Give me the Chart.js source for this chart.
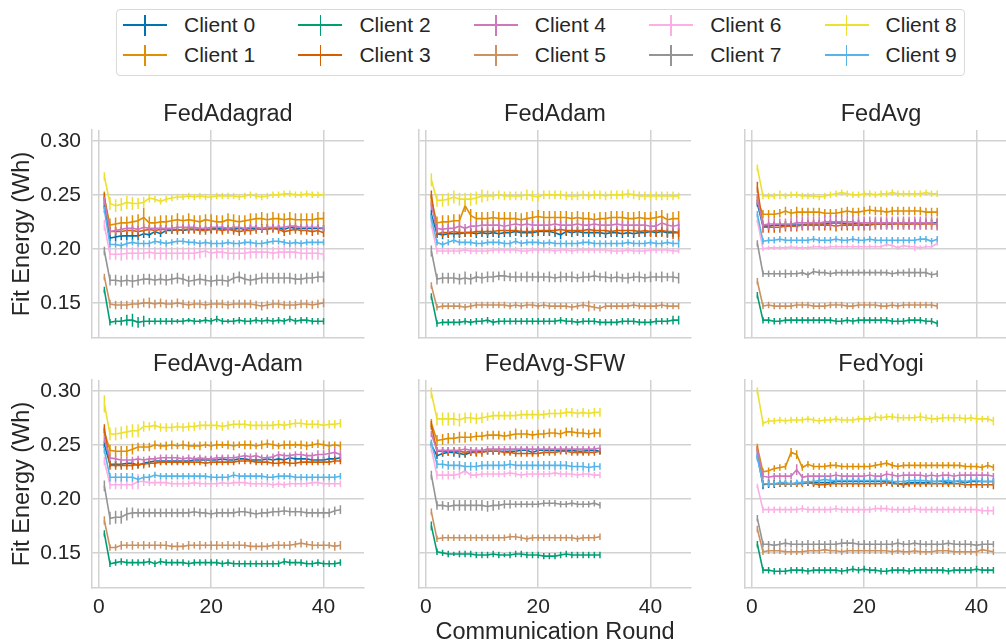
<!DOCTYPE html>
<html>
<head>
<meta charset="utf-8">
<script src="https://cdn.jsdelivr.net/npm/chart.js@4.4.0/dist/chart.umd.min.js"></script>
<style>
html, body { margin: 0; padding: 0; background: #fff; overflow: hidden; }
#wrap { position: relative; width: 1006px; height: 644px; overflow: hidden; font-family: "Liberation Sans", Arial, sans-serif; color: #262626; }
#wrap canvas { position: absolute; }
.legend-box { position: absolute; left: 116px; top: 9px; width: 849px; height: 67px; box-sizing: border-box; border: 1px solid #d9d9d9; border-radius: 4px; background: #fff; }
.lg { position: absolute; }
.lg-text { position: absolute; font-size: 21px; line-height: 24px; height: 24px; white-space: nowrap; }
</style>
</head>
<body>
<div id="wrap">
  <div class="legend-box"></div>
</div>
<script>
// Data (energy in mWh, error = half-width of the bar in mWh)
var clients = ['Client 0', 'Client 1', 'Client 2', 'Client 3', 'Client 4', 'Client 5', 'Client 6', 'Client 7', 'Client 8', 'Client 9'];
var colors = ['#0173B2', '#DE8F05', '#029E73', '#D55E00', '#CC78BC', '#CA9161', '#FBAFE4', '#949494', '#ECE133', '#56B4E9'];
var strategies = ['FedAdagrad', 'FedAdam', 'FedAvg', 'FedAvg-Adam', 'FedAvg-SFW', 'FedYogi'];
var xTicks = [0, 20, 40];
var yTicks = [0.15, 0.20, 0.25, 0.30];

var fedAdagradMean = [
  [240,210,211,212,212,212,212,214,213,216, 214,217,217,218,217,218,218,218,218,218, 219,218,219,218,219,218,219,219,218,219, 219,219,218,220,219,219,219,219,219,219],
  [247,222,223,224,224,225,226,229,224,224, 225,225,226,227,226,227,226,225,227,226, 225,225,227,226,225,226,227,228,228,227, 228,228,227,228,227,227,227,227,228,228],
  [162,132,133,133,134,134,132,133,133,133, 133,133,133,133,133,134,133,133,134,133, 135,133,133,133,134,133,133,134,133,134, 133,134,133,135,133,134,134,133,133,133],
  [248,216,216,216,217,217,216,217,218,217, 218,218,218,217,218,218,218,217,217,218, 218,217,218,217,216,217,217,218,219,218, 219,218,216,217,218,217,217,216,217,215],
  [245,216,217,218,219,219,218,220,219,219, 219,219,219,220,220,220,220,219,219,220, 220,220,219,220,220,219,220,220,219,220, 220,220,220,221,221,220,220,220,220,219],
  [174,149,148,148,148,149,149,150,150,149, 150,149,149,150,149,148,149,149,148,149, 149,149,148,149,149,149,149,148,147,148, 149,149,148,148,148,149,149,148,149,150],
  [222,195,195,195,196,196,196,196,197,196, 196,196,196,196,196,196,196,197,198,196, 197,197,196,196,196,196,197,197,197,197, 196,197,197,197,197,196,196,196,196,195],
  [198,171,171,170,171,170,171,172,172,171, 172,171,172,173,172,170,171,172,171,170, 171,171,170,173,174,172,171,172,173,173, 173,173,173,173,172,172,173,173,174,174],
  [267,242,240,241,243,242,242,243,247,246, 244,246,247,248,248,249,248,249,248,248, 249,249,249,249,248,249,250,249,248,249, 250,250,251,251,250,250,251,250,250,250],
  [236,204,204,203,205,206,205,205,205,207, 206,205,206,207,207,206,206,205,206,205, 205,205,206,205,205,206,206,205,205,206, 207,207,206,205,206,205,206,206,206,206]
];
var fedAdagradErr = [
  '3344444433 3333333333 3333333333 3333333333',
  '6666666966 6656565656 6666656566 6566666666',
  '3334565533 3332323233 3323333333 3333333333',
  '4444445444 4444444444 4444444445 4444444444',
  '3333333333 3333333333 3333333333 3333333333',
  '3444444454 4444444444 4444444444 4444444444',
  '5556666666 6666666666 6666666666 6666666666',
  '4555565555 5555555555 5555555555 5555555555',
  '4666665543 3333333333 3333333333 3333333333',
  '3333333333 3333333333 3333333333 3333333333'
];

var fedAdamMean = [
  [232,214,213,214,214,214,215,215,214,215, 214,215,214,215,215,216,215,215,215,216, 216,216,215,213,216,215,216,215,215,215, 215,214,215,215,214,215,214,215,215,216, 215,216,215,215,215],
  [245,224,225,225,226,226,240,231,228,228, 228,229,228,228,228,228,227,228,229,230, 229,229,229,229,229,228,229,228,228,227, 228,228,229,229,229,228,228,229,228,228, 229,230,227,228,228],
  [156,131,132,132,132,132,133,132,133,133, 134,132,133,133,133,133,133,133,133,133, 133,133,133,134,133,133,132,133,133,133, 132,132,132,132,133,133,133,132,132,132, 133,133,133,134,134],
  [250,214,215,215,216,215,215,215,216,216, 216,216,217,217,217,217,216,216,216,217, 217,217,217,218,217,217,217,217,218,217, 217,217,216,217,217,217,217,216,217,216, 217,217,216,216,215],
  [240,219,218,219,219,221,219,221,221,222, 222,222,222,221,222,223,222,223,222,222, 222,222,223,222,222,222,223,222,222,223, 222,222,222,223,222,222,222,222,222,221, 221,224,222,221,222],
  [166,146,147,147,147,147,146,147,148,148, 148,148,148,148,147,148,147,148,148,147, 148,147,147,147,147,146,147,148,147,146, 145,147,147,147,147,147,148,147,147,147, 147,148,147,147,147],
  [222,198,198,198,198,198,199,198,198,198, 198,199,199,199,199,199,198,198,199,199, 199,199,198,199,199,198,199,199,199,199, 199,199,198,198,198,199,198,198,198,199, 199,199,199,198,198],
  [198,172,173,173,173,172,173,172,174,173, 174,174,175,175,174,174,174,174,174,174, 174,174,173,174,174,174,173,174,174,175, 174,174,173,174,173,173,174,174,173,174, 174,174,174,174,173],
  [264,245,245,246,248,246,246,246,247,249, 249,249,250,249,249,249,249,250,249,248, 250,250,250,250,249,249,249,250,249,250, 250,249,250,250,250,251,250,249,249,249, 249,249,249,249,249],
  [228,206,204,206,208,206,206,206,205,205, 206,206,206,205,205,207,205,206,206,206, 205,206,205,205,205,205,205,206,206,205, 205,205,205,205,205,206,205,205,205,206, 205,205,206,205,205]
];
var fedAdamErr = [
  '4444444444 4444444444 4444444444 4444444444 44444',
  '5666666666 6666666666 6666666666 6666666666 66667',
  '3333333333 3333333333 3333333333 3333333333 33344',
  '4444444444 4444444444 4444444444 4444445555 66678',
  '4444444444 4444444444 4444444444 4444444444 44444',
  '3333333333 3333333333 3333333353 3333333333 33333',
  '3333333333 3333333333 3333333333 3333333333 33332',
  '5555556555 5545454545 4545454545 4545454545 45455',
  '6666666666 5444444554 4444444444 4444444444 44443',
  '3333333333 3333333333 3333333333 3333333333 33334'
];

var fedAvgMean = [
  [242,221,221,222,222,222,222,222,222,223, 223,223,223,224,224,224,223,223,224,222, 223,223,223,223,223,224,223,223,224,223, 224,224,224],
  [245,232,232,232,233,235,233,234,234,234, 234,234,233,233,233,234,235,234,234,235, 236,235,235,234,235,235,235,235,235,235, 234,234,234],
  [157,134,134,133,133,134,134,134,134,134, 134,134,134,134,133,133,134,133,134,134, 134,134,134,134,133,133,133,134,134,134, 133,133,131],
  [257,220,220,220,220,221,221,221,222,222, 222,222,222,222,221,222,222,222,222,222, 222,223,223,223,223,223,223,223,223,223, 223,223,223],
  [246,222,223,223,223,223,223,224,224,224, 224,224,225,225,225,225,225,225,224,224, 224,224,224,224,224,224,224,224,224,224, 224,224,223],
  [170,147,148,147,147,147,147,148,148,148, 147,147,147,148,148,148,147,147,148,148, 148,148,147,147,148,147,148,148,148,148, 148,148,147],
  [226,200,201,201,201,201,202,201,201,201, 202,202,201,202,202,202,202,202,202,202, 202,202,202,204,203,201,203,202,202,201, 202,202,205],
  [205,177,177,177,177,177,177,177,178,176, 179,178,178,177,178,178,178,178,178,178, 178,178,178,178,177,178,178,178,178,178, 178,176,177],
  [275,249,249,249,250,249,250,250,249,249, 249,248,249,250,251,252,251,250,250,251, 251,250,251,251,252,251,251,251,251,251, 252,251,251],
  [232,207,208,208,209,208,208,208,208,208, 209,208,208,208,209,208,208,209,208,208, 209,208,208,208,208,208,208,208,208,209, 209,207,209]
];
var fedAvgErr = [
  '3333333333 3333333333 3333333333 333',
  '4444444544 4444444444 4444444444 444',
  '3333333333 3333333333 3333333333 333',
  '5555555555 5555555555 5555555555 555',
  '5555556666 6666666666 6666666666 666',
  '3333333333 3333333333 3333333333 333',
  '2222222222 2222222222 2222222242 222',
  '3333343333 3333333333 3333333444 433',
  '3333433333 3333333333 3333333333 333',
  '3333333333 3333333333 3333333333 333'
];

var fedAvgAdamMean = [
  [250,232,232,232,233,233,231,233,234,235, 235,235,235,235,235,235,236,236,236,236, 236,237,236,236,237,237,236,236,236,237, 236,237,236,238,237,237,237,236,236,236, 237,237,238],
  [262,245,244,244,244,246,248,248,248,250, 249,249,250,249,250,249,249,249,250,249, 250,250,250,249,250,250,250,249,250,251, 250,249,250,250,250,250,249,250,251,250, 249,250,249],
  [168,140,141,142,141,141,141,141,142,140, 142,141,141,141,141,140,141,141,141,141, 141,140,141,140,140,140,140,140,140,140, 140,140,142,141,141,141,140,140,141,140, 140,140,141],
  [265,231,231,231,231,231,232,232,233,233, 234,234,234,234,234,234,234,234,233,234, 234,234,234,234,235,235,235,234,234,234, 233,233,234,233,233,234,234,234,234,234, 234,235,235],
  [255,238,237,236,236,236,237,236,237,237, 238,238,238,238,237,238,237,238,237,237, 238,238,238,238,239,240,239,240,238,238, 239,241,240,240,241,241,240,240,241,241, 242,243,241],
  [180,155,155,157,157,157,157,157,157,157, 157,157,156,156,156,157,157,157,157,157, 157,157,157,157,157,157,156,156,156,156, 157,157,157,157,158,159,158,157,157,157, 157,156,157],
  [235,213,213,213,213,213,216,216,215,215, 215,215,214,214,214,214,215,214,214,214, 214,215,214,215,215,215,214,214,214,214, 213,214,213,214,214,214,214,215,215,214, 214,214,214],
  [212,182,183,183,186,187,187,187,187,187, 187,187,187,187,187,187,188,187,187,186, 187,187,187,187,188,188,187,186,187,187, 188,188,189,188,188,188,187,187,187,187, 187,189,190],
  [288,260,260,261,262,263,263,267,267,268, 266,266,266,267,266,267,267,268,268,268, 268,267,268,269,269,269,268,268,268,268, 268,269,268,269,270,270,269,269,269,268, 269,269,270],
  [245,220,220,220,220,220,218,220,220,222, 221,221,221,221,221,221,221,221,221,220, 220,220,220,222,221,221,221,221,221,220, 220,221,221,221,220,220,220,220,220,220, 220,220,221]
];
var fedAvgAdamErr = [
  '3333333333 3333333333 3333333333 3333333333 334',
  '4555554444 3443443434 4344344344 4344344344 434',
  '3333333333 3333333333 3333333333 3333333333 333',
  '4444444444 3333333333 3333333333 3333333333 333',
  '3333333333 3333333333 3333333333 3333333344 444',
  '4334343434 3434343434 4343434343 3434343434 344',
  '4444447433 3333333333 3333333333 3333333333 333',
  '5666654444 4444444444 4444444444 4444444445 444',
  '8666666544 4444444444 4444444444 4444444444 444',
  '3444443333 3333333333 3333333333 3333333333 333'
];

var fedAvgSfwMean = [
  [250,240,242,243,243,242,241,243,243,244, 244,244,244,244,244,244,245,245,243,245, 245,245,245,245,245,245,244,244,245,245, 244],
  [270,254,255,256,256,257,257,257,258,258, 259,259,259,258,259,260,260,260,259,260, 260,261,261,260,262,262,261,261,260,261, 261],
  [175,151,150,149,149,149,149,149,148,148, 148,149,148,148,148,149,149,148,148,148, 147,147,147,148,149,148,148,148,148,148, 148],
  [268,244,244,244,244,244,243,244,243,243, 244,244,244,243,243,242,242,242,242,242, 243,243,243,244,244,243,243,243,243,243, 244],
  [260,245,245,245,245,245,246,245,245,245, 246,246,246,246,246,246,246,246,246,246, 246,246,246,246,246,246,246,246,246,246, 247],
  [188,163,164,164,164,164,164,164,164,164, 164,164,164,164,165,165,164,163,164,164, 164,164,164,164,164,164,163,164,164,164, 165],
  [246,222,222,222,222,223,226,222,222,223, 223,223,223,223,224,223,222,223,223,223, 223,223,224,223,223,223,222,223,223,222, 222],
  [222,194,194,193,194,194,194,194,194,194, 193,194,194,195,195,195,195,195,195,195, 196,196,196,195,195,196,195,195,195,196, 194],
  [298,274,274,274,274,273,275,275,274,275, 276,277,277,277,277,277,278,278,278,278, 278,279,279,279,280,280,279,280,279,280, 280],
  [252,232,232,231,231,231,230,230,230,231, 231,231,231,231,232,231,231,231,231,231, 231,231,231,231,231,230,230,230,229,230, 230]
];
var fedAvgSfwErr = [
  '3333443333 3333333333 3333333333 3',
  '4555555444 4444454444 4444444444 4',
  '4333233333 3332333333 3333333333 3',
  '4444444444 3333333333 3333333333 3',
  '3333333333 3333333333 3333333333 3',
  '3333333333 3333333333 3333333333 3',
  '3444444333 3333333333 3333333333 3',
  '4444555555 5544433333 3333333333 3',
  '5666665555 4444444444 4444444444 4',
  '3444444444 4444444444 4444444444 3'
];

var fedYogiMean = [
  [240,213,214,214,214,214,214,214,215,215, 215,215,215,215,216,216,216,216,216,216, 216,216,216,216,215,214,214,215,215,215, 215,216,216,216,215,216,216,215,216,216, 216,216,216],
  [248,225,226,228,229,230,243,241,229,232, 230,230,230,231,231,230,230,230,230,230, 230,231,232,233,231,230,231,231,231,231, 231,231,231,231,231,231,231,230,230,230, 229,231,229],
  [158,134,134,133,133,133,134,134,134,133, 134,134,134,134,134,133,134,135,134,135, 134,134,133,133,134,134,134,133,134,134, 134,134,134,134,133,134,134,134,134,135, 134,134,134],
  [246,214,214,214,214,214,214,214,214,215, 214,213,213,214,214,214,214,214,214,214, 214,214,214,215,214,214,213,214,214,214, 214,214,214,214,214,214,214,213,213,213, 213,213,213],
  [245,221,220,221,221,221,221,227,220,221, 221,221,221,221,222,221,221,221,221,221, 222,221,221,223,222,221,222,222,222,222, 221,222,221,222,222,221,222,222,222,222, 222,222,221],
  [172,151,152,152,152,151,151,151,151,152, 152,152,153,152,152,151,152,152,152,152, 152,152,152,152,151,152,151,151,152,151, 151,151,152,152,152,151,151,151,151,151, 153,152,151],
  [212,190,190,190,190,190,190,190,191,190, 190,190,190,190,191,190,190,190,190,190, 190,191,191,191,190,190,190,190,191,190, 190,190,190,190,190,190,190,190,190,190, 189,189,189],
  [182,158,158,157,158,159,158,158,158,158, 158,158,158,158,158,159,159,159,158,158, 158,158,158,158,158,159,158,158,159,158, 158,158,158,158,159,158,158,158,158,157, 158,158,158],
  [300,270,272,272,273,272,273,273,273,274, 273,272,273,273,274,273,273,273,274,274, 274,276,275,276,276,275,275,275,275,276, 275,274,274,275,275,275,275,274,275,274, 274,274,272],
  [238,214,214,214,215,215,214,215,215,216, 216,217,218,217,217,217,217,217,217,217, 217,217,217,217,216,216,216,217,217,217, 217,216,216,217,217,216,217,216,217,217, 216,216,216]
];
var fedYogiErr = [
  '3444333333 3333333333 3333333333 3333333333 333',
  '3333334433 3333333333 3333333333 3333333333 333',
  '3333333333 3333333333 3333333333 3333333333 333',
  '3333333333 3333333333 3333333333 3333333333 334',
  '3333333533 3333333333 3333333333 3333333333 333',
  '3333333333 3333333333 3333333333 3333333334 333',
  '2333333333 3333333333 3333333333 3333333333 344',
  '3334343434 3434343434 3434343434 3434343434 343',
  '3333333333 3333333333 3433343334 3434343434 334',
  '3333333333 3333333333 3333333333 3333333333 333'
];

var panelMeans = [fedAdagradMean, fedAdamMean, fedAvgMean, fedAvgAdamMean, fedAvgSfwMean, fedYogiMean];
var panelErrs = [fedAdagradErr, fedAdamErr, fedAvgErr, fedAvgAdamErr, fedAvgSfwErr, fedYogiErr];

// Layout
var TEXT = '#262626';
var GRID = '#d2d2d2';
var FONT = '"Liberation Sans", Arial, sans-serif';
Chart.defaults.font.family = FONT;
Chart.defaults.color = TEXT;

var wrap = document.getElementById('wrap');

// Legend (two rows, filled column by column)
clients.forEach(function (name, i) {
    var col = Math.floor(i / 2), row = i % 2;
    var hx = 123 + col * 175.4, cy = 25 + row * 30;
    var h = document.createElement('div');
    h.className = 'lg';
    h.style.cssText = 'left:' + hx + 'px;top:' + (cy - 0.75) + 'px;width:44px;height:1.5px;background:' + colors[i];
    var v = document.createElement('div');
    v.className = 'lg';
    v.style.cssText = 'left:' + (hx + 21.25) + 'px;top:' + (cy - 10.5) + 'px;width:1.5px;height:21px;background:' + colors[i];
    var t = document.createElement('div');
    t.className = 'lg-text';
    t.style.cssText = 'left:' + (184 + col * 175.4) + 'px;top:' + (cy - 12) + 'px;';
    t.textContent = name;
    wrap.appendChild(h);
    wrap.appendChild(v);
    wrap.appendChild(t);
});

// Error bars drawn right after each series' line
var errorBars = {
    id: 'errorBars',
    afterDatasetDraw: function (chart, args) {
        var ds = chart.data.datasets[args.index];
        var ys = chart.scales.y;
        var ctx = chart.ctx;
        ctx.save();
        ctx.strokeStyle = ds.borderColor;
        ctx.lineWidth = 1.5;
        ctx.beginPath();
        args.meta.data.forEach(function (pt, i) {
            var p = ds.data[i];
            var e = ds.errors[i] / 1000;
            ctx.moveTo(pt.x, ys.getPixelForValue(p.y - e));
            ctx.lineTo(pt.x, ys.getPixelForValue(p.y + e));
        });
        ctx.stroke();
        ctx.restore();
    }
};

var panelTitle = {
    id: 'panelTitle',
    afterDraw: function (chart, args, opts) {
        var ctx = chart.ctx, a = chart.chartArea;
        ctx.save();
        ctx.font = '23.5px ' + FONT;
        ctx.fillStyle = TEXT;
        ctx.textAlign = 'center';
        ctx.textBaseline = 'alphabetic';
        ctx.fillText(opts.text, (a.left + a.right) / 2, a.top - 9);
        ctx.restore();
    }
};

// canvases overlap a little; they are transparent
var colLeft = [0, 327, 653];
var rowTop = [90, 340];
var rowHeight = [274, 304];
var axisHeight = [26, 56];

strategies.forEach(function (name, p) {
    var r = Math.floor(p / 3), c = p % 3;
    var canvas = document.createElement('canvas');
    canvas.width = 372;
    canvas.height = rowHeight[r];
    canvas.style.left = colLeft[c] + 'px';
    canvas.style.top = rowTop[r] + 'px';
    wrap.appendChild(canvas);

    var datasets = clients.map(function (cl, i) {
        var means = panelMeans[p][i];
        var errs = panelErrs[p][i].replace(/ /g, '').split('').map(Number);
        return {
            label: cl,
            data: means.map(function (v, k) { return { x: k + 1, y: v / 1000 }; }),
            errors: errs,
            borderColor: colors[i],
            backgroundColor: colors[i],
            borderWidth: 1.6,
            pointRadius: 0,
            tension: 0,
            fill: false,
            order: 9 - i
        };
    });

    var bottomRow = r === 1;
    var firstCol = c === 0;

    new Chart(canvas, {
        type: 'line',
        data: { datasets: datasets },
        plugins: [errorBars, panelTitle],
        options: {
            responsive: false,
            animation: false,
            devicePixelRatio: 1,
            events: [],
            layout: { padding: { top: 40, left: 0, right: 8, bottom: 0 } },
            plugins: {
                legend: { display: false },
                tooltip: { enabled: false },
                panelTitle: { text: name }
            },
            scales: {
                x: {
                    type: 'linear',
                    min: -1.2,
                    max: 47.2,
                    afterBuildTicks: function (s) { s.ticks = xTicks.map(function (v) { return { value: v }; }); },
                    afterFit: function (s) { s.height = axisHeight[r]; },
                    grid: { color: GRID, lineWidth: 1.5, drawTicks: false },
                    border: { display: true, color: GRID, width: 1.5 },
                    ticks: {
                        display: bottomRow,
                        autoSkip: false,
                        maxRotation: 0,
                        padding: 7,
                        color: TEXT,
                        font: { size: 21 },
                        callback: function (v) { return v; }
                    },
                    title: {
                        display: bottomRow && c === 1,
                        text: 'Communication Round',
                        color: TEXT,
                        font: { size: 23.5, lineHeight: 1 },
                        padding: { top: 0, bottom: 0 }
                    }
                },
                y: {
                    type: 'linear',
                    min: 0.1175,
                    max: 0.31,
                    afterBuildTicks: function (s) { s.ticks = yTicks.map(function (v) { return { value: v }; }); },
                    afterFit: function (s) { s.width = 92; },
                    grid: { color: GRID, lineWidth: 1.5, drawTicks: false },
                    border: { display: true, color: GRID, width: 1.5 },
                    ticks: {
                        display: firstCol,
                        padding: 11,
                        color: TEXT,
                        font: { size: 21 },
                        callback: function (v) { return v.toFixed(2); }
                    },
                    title: {
                        display: firstCol,
                        text: 'Fit Energy (Wh)',
                        color: TEXT,
                        font: { size: 23.5, lineHeight: 1 },
                        padding: { top: 11, bottom: 0 }
                    }
                }
            }
        }
    });
});
</script>
</body>
</html>
